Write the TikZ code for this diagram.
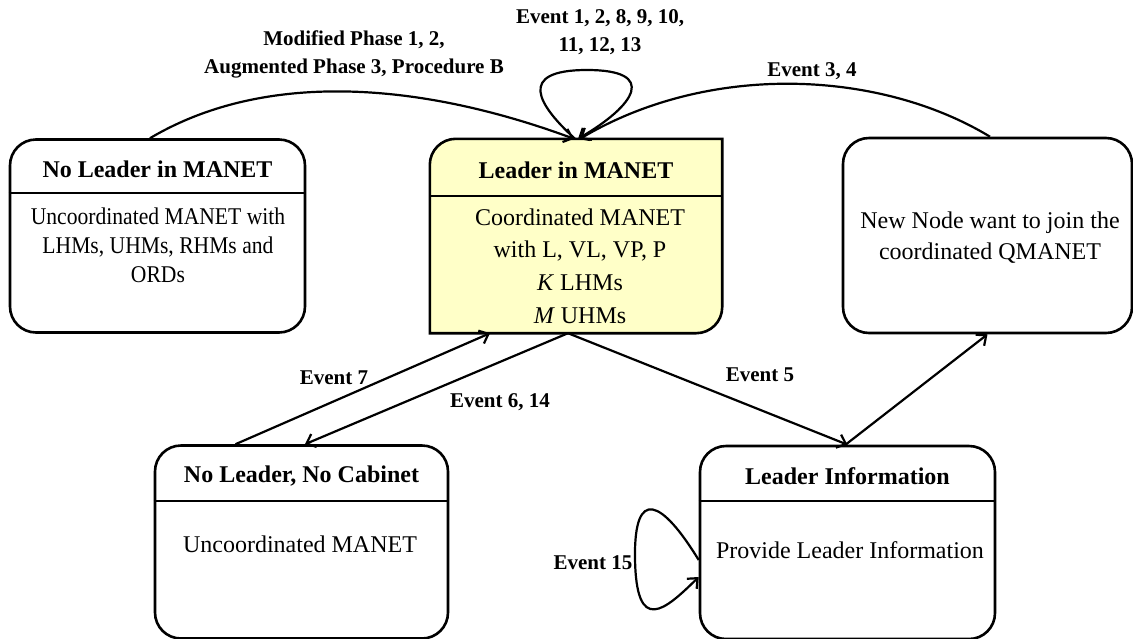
\documentclass[tikz,border=0pt]{standalone}
\usepackage{fontspec}
\setmainfont{Liberation Serif}
\newfontfamily\narrowfont[FakeStretch=0.9]{Liberation Serif}
\usetikzlibrary{arrows.meta,calc}
\definecolor{leaderfill}{HTML}{FFFFC8}

\begin{document}
\begin{tikzpicture}[x=1pt,y=-1pt,
  statebox/.style={draw, line width=2.6pt, rounded corners=26pt,
    minimum width=#1, minimum height=193pt, inner sep=0pt},
  plainbox/.style={minimum width=#1, minimum height=194pt, inner sep=0pt},
  divider/.style={line width=2.4pt},
  title/.style={font=\fontsize{24}{28}\selectfont\bfseries, inner sep=0pt},
  body/.style={font=\fontsize{24}{29}\selectfont, align=center, inner sep=0pt},
  evlabel/.style={font=\fontsize{21}{28}\selectfont\bfseries, align=center, inner sep=0pt},
  trans/.style={line width=2.2pt, -{Straight Barb[length=8pt,width=14pt,line width=2.2pt]}},
]
\useasboundingbox (0,0) rectangle (1133,638);

% ---- states ----
\node[statebox=295pt] (A) at (157.5,236) {};
\node[plainbox=292pt] (B) at (576,236) {};
\draw[line width=2.6pt, fill=leaderfill]
  (B.north east) -- ([xshift=26pt]B.north west)
  arc[start angle=90, end angle=180, radius=26pt]
  -- (B.south west) -- ([xshift=-26pt]B.south east)
  arc[start angle=270, end angle=360, radius=26pt] -- cycle;
\node[statebox=289pt, minimum height=195pt] (C) at (987.5,235.5) {};
\node[statebox=293pt] (D) at (301.5,542) {};
\node[statebox=295pt] (E) at (847.5,542.5) {};

% ---- compartments ----
\draw[divider] ([yshift=-55pt]A.north west) -- ([yshift=-55pt]A.north east);
\draw[divider] ([yshift=-57pt]B.north west) -- ([yshift=-57pt]B.north east);
\draw[divider] ([yshift=-57pt]D.north west) -- ([yshift=-57pt]D.north east);
\draw[divider] ([yshift=-56pt]E.north west) -- ([yshift=-56pt]E.north east);

% ---- texts ----
\node[title] (At) at ([yshift=-31pt]A.north) {No Leader in MANET};
\node[body, font=\fontsize{24}{29}\selectfont\narrowfont] (Ab) at (158,245)
  {Uncoordinated MANET with\\LHMs, UHMs, RHMs and\\ORDs};
\node[title] (Bt) at ([yshift=-31pt]B.north) {Leader in MANET};
\node[body, font=\fontsize{24}{32.7}\selectfont] (Bb) at (580,266)
  {Coordinated MANET\\with L, VL, VP, P\\\textit{K} LHMs\\\textit{M} UHMs};
\node[body, font=\fontsize{24}{31}\selectfont] (Cb) at (990,237.5)
  {New Node want to join the\\coordinated QMANET};
\node[title] (Dt) at ([yshift=-32pt]D.north) {No Leader, No Cabinet};
\node[body] (Db) at (300,544) {Uncoordinated MANET};
\node[title] (Et) at ([yshift=-31pt]E.north) {Leader Information};
\node[body] (Eb) at (850,550) {Provide Leader Information};

% ---- transitions ----
\draw[trans] ([xshift=-7.5pt]A.north) .. controls (265,70) and (420,82) .. ([xshift=-2pt]B.north);
\draw[trans] ([xshift=2.5pt]C.north) .. controls (880,70) and (710,62) .. ([xshift=4pt]B.north);
\draw[trans] ([xshift=-1pt]B.north) .. controls (538,105) and (516,70) .. (587,70)
  .. controls (658,70) and (636,105) .. ([xshift=2pt]B.north);
\draw[trans] ([xshift=-66pt]D.north) -- ([xshift=-86pt]B.south);
\draw[trans] ([xshift=-8pt]B.south) -- ([xshift=3.5pt]D.north);
\draw[trans] ([xshift=-8pt]B.south) -- (E.north);
\draw[trans] ([xshift=-2pt]E.north) -- (C.south);
\draw[trans] ([yshift=-17.5pt]E.west) .. controls (662,500) and (634,486) .. (635,558)
  .. controls (636,636) and (665,610) .. ([yshift=-34.5pt]E.west);

% ---- transition labels ----
\node[evlabel] (l1) at (354,54) {Modified Phase 1, 2,\\Augmented Phase 3, Procedure B};
\node[evlabel] (l2) at (600,32) {Event 1, 2, 8, 9, 10,\\11, 12, 13};
\node[evlabel] (l3) at (812,71) {Event 3, 4};
\node[evlabel] (l4) at (334,378) {Event 7};
\node[evlabel] (l5) at (500,402) {Event 6, 14};
\node[evlabel] (l6) at (760,375) {Event 5};
\node[evlabel] (l7) at (593,563) {Event 15};
\end{tikzpicture}
\end{document}
